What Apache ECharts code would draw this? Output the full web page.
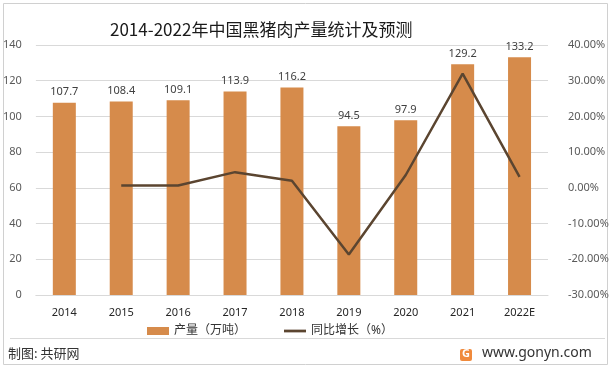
<!DOCTYPE html>
<html><head><meta charset="utf-8">
<script src="https://cdn.jsdelivr.net/npm/echarts@6/dist/echarts.min.js"></script>
<style>html,body{margin:0;padding:0;background:#fff;}#c{width:612px;height:370px;}</style>
</head><body><div id="c"></div>
<script>
var categories = ['2014','2015','2016','2017','2018','2019','2020','2021','2022E'];
var production = [107.7,108.4,109.1,113.9,116.2,94.5,97.9,129.2,133.2];
var growth = [null,0.65,0.65,4.40,2.02,-18.67,3.60,31.97,3.10];
var leftTicks = {min:0,max:140,interval:20};
var rightTicks = {min:-30,max:40,interval:10};
var titleText = '2014-2022年中国黑猪肉产量统计及预测';
var barName = '产量（万吨）';
var lineName = '同比增长（%）';
var sourceText = '制图: 共研网';
var siteText = 'www.gonyn.com';

var font = '"Noto Sans","Noto Sans CJK SC",sans-serif';
var chart = echarts.init(document.getElementById('c'));
chart.setOption({
  animation:false,
  backgroundColor:'#fff',
  title:{text:titleText,left:110,top:21,padding:0,textStyle:{fontFamily:'"Noto Sans CJK SC",sans-serif',fontSize:17,fontWeight:'normal',color:'#1a1a1a'}},
  grid:{left:34,right:64,top:45,bottom:75,containLabel:false},
  legend:{left:147,top:325,padding:0,itemGap:38,itemWidth:22,itemHeight:8,
    textStyle:{fontFamily:font,fontSize:12,color:'#333'},
    data:[{name:barName,icon:'rect'},{name:lineName,icon:'path://M0,0h24v3h-24z'}]},
  xAxis:{type:'category',data:categories,
    axisLine:{show:true,lineStyle:{color:'#d9d9d9'}},axisTick:{show:false},
    axisLabel:{margin:12,fontFamily:font,fontSize:11,color:'#262626'}},
  yAxis:[
    {type:'value',min:leftTicks.min,max:leftTicks.max,interval:leftTicks.interval,
     axisLine:{show:false},axisTick:{show:false},
     splitLine:{lineStyle:{color:'#d9d9d9'}},
     axisLabel:{margin:14,fontFamily:font,fontSize:11,color:'#595959'}},
    {type:'value',min:rightTicks.min,max:rightTicks.max,interval:rightTicks.interval,
     axisLine:{show:false},axisTick:{show:false},splitLine:{show:false},
     axisLabel:{margin:20,fontFamily:font,fontSize:11,color:'#595959',
       formatter:function(v){return v.toFixed(2)+'%';}}}
  ],
  series:[
    {name:barName,type:'bar',data:production,barWidth:23,
     itemStyle:{color:'#D68B4B'},
     label:{show:true,position:'top',distance:5,fontFamily:font,fontSize:11,color:'#404040'}},
    {name:lineName,type:'line',yAxisIndex:1,data:growth,symbol:'none',
     lineStyle:{color:'#5B4530',width:2.5},itemStyle:{color:'#5B4530'}}
  ],
  graphic:[
    {type:'rect',shape:{x:3.5,y:3.5,width:604,height:361},style:{fill:'none',stroke:'#d0d0d0',lineWidth:1},z:-1},
    {type:'line',shape:{x1:10,y1:338.5,x2:605,y2:338.5},style:{stroke:'#d9d9d9',lineWidth:1}},
    {type:'text',left:8,top:347,style:{text:sourceText,font:'13px "Noto Sans CJK SC",sans-serif',fill:'#333'}},
    {type:'rect',shape:{x:460,y:349,width:12,height:12,r:2},style:{fill:'#F08A3C'}},
    {type:'text',left:462,top:348,style:{text:'G',font:'bold 11px "Noto Sans",sans-serif',fill:'#fff'}},
    {type:'text',left:482,top:346,style:{text:siteText,font:'14px "Noto Sans",sans-serif',fill:'#333'}}
  ]
});
</script></body></html>
